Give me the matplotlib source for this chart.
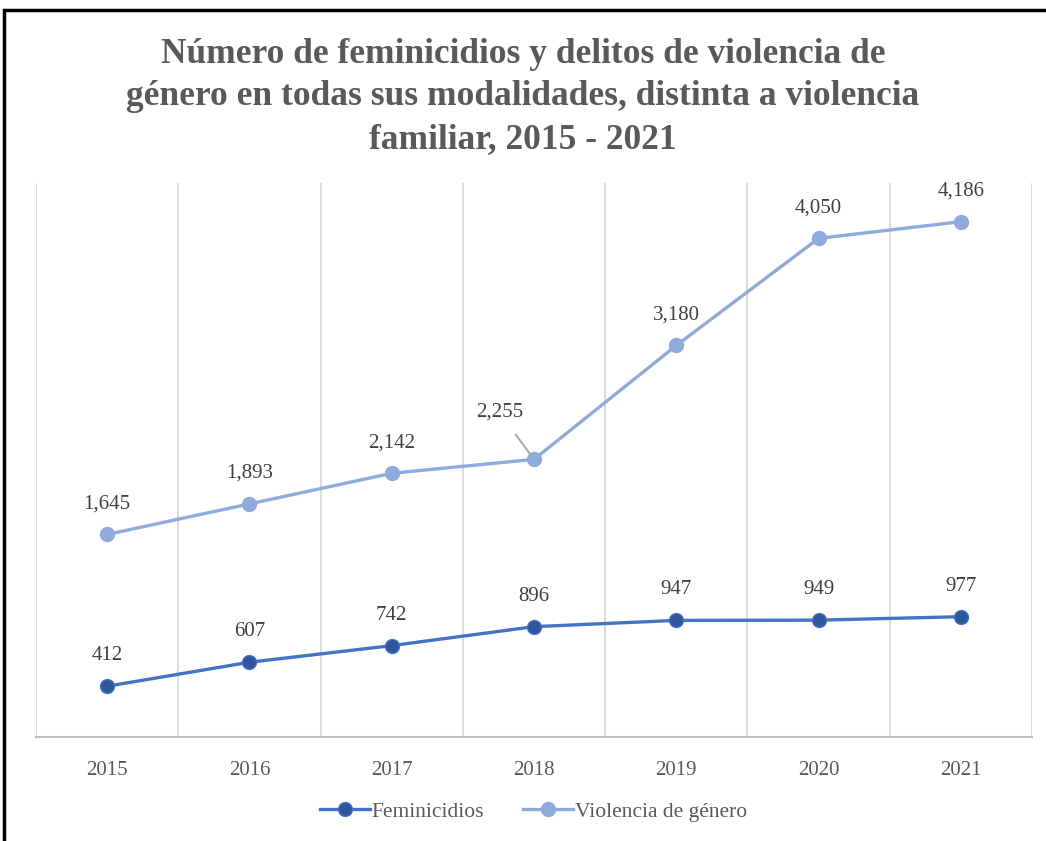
import matplotlib.pyplot as plt
from matplotlib.patches import Rectangle

# datos del grafico
anios = ['2015', '2016', '2017', '2018', '2019', '2020', '2021']
feminicidios = [412, 607, 742, 896, 947, 949, 977]
violencia_genero = [1645, 1893, 2142, 2255, 3180, 4050, 4186]

titulo = ('Número de feminicidios y delitos de violencia de\n'
          'género en todas sus modalidades, distinta a violencia\n'
          'familiar, 2015 - 2021')

plt.rcParams['font.family'] = ['Liberation Serif', 'DejaVu Serif']

color_fem = '#4472C4'
color_fem_marker = '#2F559B'
color_vio = '#8FAADC'
gris_texto = '#404040'

fig = plt.figure(figsize=(10.46, 8.41), dpi=100)
ax = fig.add_axes([0.0344, 0.1237, 0.9522, 0.6587])

x = list(range(len(anios)))

ax.plot(x, feminicidios, color=color_fem, lw=2.4, marker='o', ms=10,
        mfc=color_fem_marker, mec=color_fem, label='Feminicidios', zorder=3)
ax.plot(x, violencia_genero, color=color_vio, lw=2.4, marker='o', ms=10,
        mfc=color_vio, mec=color_vio, label='Violencia de género', zorder=3)

# etiquetas de datos
for i, v in enumerate(feminicidios):
    ax.annotate(f'{v:,}', (i, v), xytext=(0, 22), textcoords='offset points',
                ha='center', va='center', fontsize=15, color=gris_texto)
for i, v in enumerate(violencia_genero):
    if anios[i] == '2018':
        ax.annotate(f'{v:,}', (i, v), xytext=(-25, 34), textcoords='offset points',
                    ha='center', va='center', fontsize=15, color=gris_texto,
                    arrowprops=dict(arrowstyle='-', color='#A6A6A6', lw=1.4,
                                    shrinkA=9, shrinkB=3))
    else:
        ax.annotate(f'{v:,}', (i, v), xytext=(0, 22), textcoords='offset points',
                    ha='center', va='center', fontsize=15, color=gris_texto)

ax.set_xlim(-0.5, len(anios) - 0.5)
ax.set_ylim(0, 4500)
ax.set_xticks(x)
ax.set_xticklabels(anios, fontsize=15, color='#595959')
ax.set_yticks([])

# lineas verticales entre categorias
for b in range(len(anios) + 1):
    ax.axvline(b - 0.5, color='#D9D9D9', lw=1.3, zorder=1)

for lado in ['top', 'right', 'left']:
    ax.spines[lado].set_visible(False)
ax.spines['bottom'].set_color('#BFBFBF')
ax.spines['bottom'].set_linewidth(1.5)
ax.tick_params(axis='x', length=0, pad=17)

fig.text(0.5, 0.885, titulo, ha='center', va='center', fontsize=25.5,
         fontweight='bold', color='#595959', linespacing=1.38)

leg = fig.legend(loc='center', bbox_to_anchor=(0.51, 0.035), ncol=2,
                 frameon=False, fontsize=15.5, handlelength=2.3,
                 columnspacing=1.8, handletextpad=0.1)
for t in leg.get_texts():
    t.set_color('#595959')

# marco del grafico
fig.patches.append(Rectangle((0.004, -0.1), 1.2, 1.088, transform=fig.transFigure,
                             fill=False, ec='black', lw=2.5))

fig.savefig('out.png', dpi=100)
